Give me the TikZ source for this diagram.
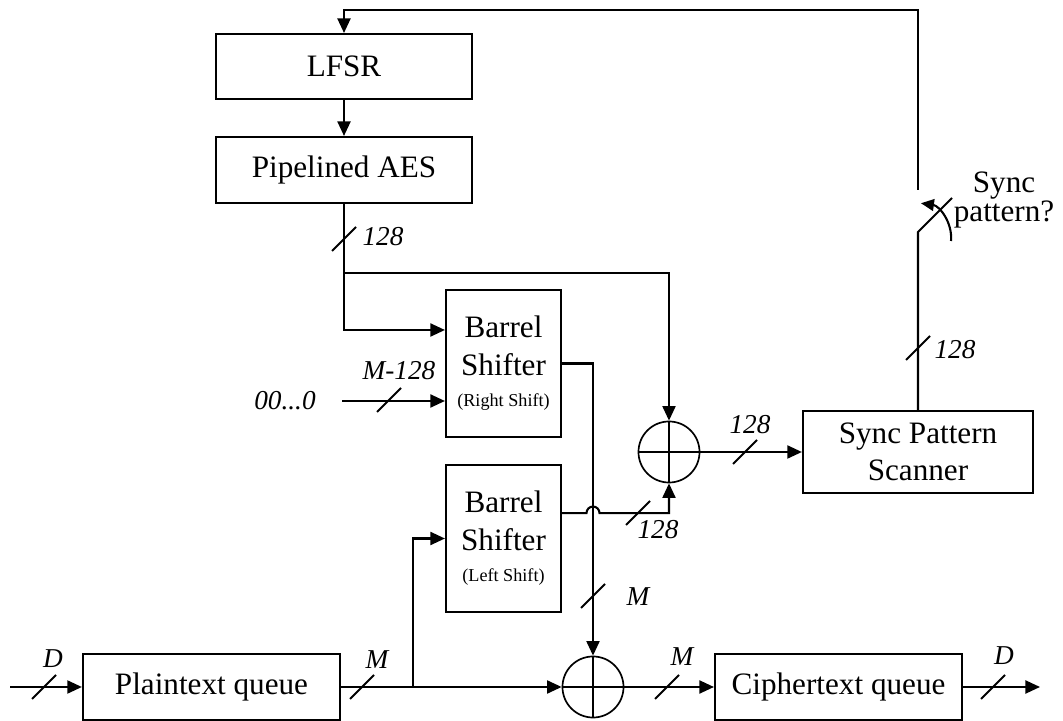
\documentclass[tikz,border=0pt]{standalone}
\usepackage{fontspec}
\setmainfont{Liberation Serif}
\usetikzlibrary{arrows.meta,calc}
\tikzset{
  ln/.style={line width=0.8pt},
  ar/.style={ln,-{Triangle[length=5.6pt,width=5pt]}},
  blk/.style={draw,line width=0.8pt,inner sep=0pt,align=center,font=\fontsize{12}{14.4}\selectfont},
  xorn/.style={circle,draw,line width=0.65pt,minimum size=23.5pt,inner sep=0pt,
    path picture={\draw[line width=0.5pt] (path picture bounding box.north) -- (path picture bounding box.south)
      (path picture bounding box.west) -- (path picture bounding box.east);}},
  lbl/.style={font=\fontsize{10.5}{12}\selectfont\itshape,inner sep=0pt}
}
\newcommand{\bus}[1]{\draw[ln] #1 ++(-12,12) -- ++(24,-24);}
\begin{document}
\begin{tikzpicture}[x=0.385pt,y=-0.385pt]
\useasboundingbox (0,0) rectangle (1063,721);
% blocks
\node[blk,minimum width=98.6pt,minimum height=25pt] (lfsr) at (344,66.5) {LFSR};
\node[blk,minimum width=98.6pt,minimum height=25.4pt] (aes) at (344,170) {Pipelined AES};
\node[blk,minimum width=44.3pt,minimum height=56.6pt] (bsr) at (503.5,363.5) {Barrel\\Shifter\\[-2.2pt]{\fontsize{7}{8}\selectfont(Right Shift)}};
\node[blk,minimum width=44.3pt,minimum height=56.6pt] (bsl) at (503.5,538.5) {Barrel\\Shifter\\[-2.2pt]{\fontsize{7}{8}\selectfont(Left Shift)}};
\node[blk,minimum width=88.6pt,minimum height=31.6pt] (scan) at (918,452) {Sync Pattern\\Scanner};
\node[blk,minimum width=99pt,minimum height=25.4pt] (plain) at (211.5,687) {Plaintext queue};
\node[blk,minimum width=95.1pt,minimum height=25.4pt] (ciph) at (838.5,687) {Ciphertext queue};
\node[xorn] (xu) at (669,452) {};
\node[xorn] (xl) at (593,687) {};
\node[lbl] (zero) at (285,401) {00...0};
\node[align=center,font=\fontsize{12}{11}\selectfont] (swq) at (1004,200) {Sync\\pattern?};
% helper points
\coordinate (br1) at (344,273);
\coordinate (br2) at (413,687);
\coordinate (fbk) at (918,10);
\coordinate (swt) at (918,190);
\coordinate (swb) at (918,232);
\coordinate (swe) at (952,198);
\coordinate (swa) at (951,241);
\coordinate (pin) at (10,687);
\coordinate (cout) at (1040,687);
\coordinate (bslo) at ([yshift=9.8pt]bsl.east);
% connectors
\draw[ar] (lfsr) -- (aes);
\draw[ln] (aes.south) -- (br1);
\draw[ar] (br1) -| (xu.north);
\draw[ar] (br1) |- ([yshift=12.9pt]bsr.west);
\draw[ar] ([xshift=10pt]zero.east) -- (zero.east -| bsr.west);
\draw[ar] (bsr.east) -| (xl.north);
\draw[ar] (bslo) -- ([xshift=-2.5pt]bslo -| xl) arc[start angle=180,end angle=0,radius=2.5pt] -- (bslo -| xu) -- (xu.south);
\draw[ar] (xu.east) -- (scan.west);
\draw[ln] (scan.north) -- (swb) -- (swe);
\draw[ar] (swt) -- (fbk) -| (lfsr.north);
\draw[ln,-{Triangle[length=5pt,width=4.5pt]}] (swa) arc[start angle=-5,end angle=82,radius=13.5pt];
\draw[ar] (pin) -- (plain.west);
\draw[ar] (plain.east) -- (xl.west);
\draw[ar] (br2) |- (bsl.west);
\draw[ar] (xl.east) -- (ciph.west);
\draw[ar] (ciph.east) -- (cout);
% bus widths
\bus{(344,239)} \node[lbl] (w1) at (383,237) {128};
\bus{(389,400)} \node[lbl] (w2) at (399,371) {M-128};
\bus{(745,452)} \node[lbl] (w3) at (750,425) {128};
\bus{(918,348)} \node[lbl] (w4) at (955,350) {128};
\bus{(638,513)} \node[lbl] (w5) at (658,530) {128};
\bus{(593,596)} \node[lbl] (w6) at (638,597) {M};
\bus{(44,687)} \node[lbl] (w7) at (53,659) {D};
\bus{(362,687)} \node[lbl] (w8) at (377,660) {M};
\bus{(667,687)} \node[lbl] (w9) at (682,657) {M};
\bus{(993,687)} \node[lbl] (w10) at (1004,656) {D};
\end{tikzpicture}
\end{document}
